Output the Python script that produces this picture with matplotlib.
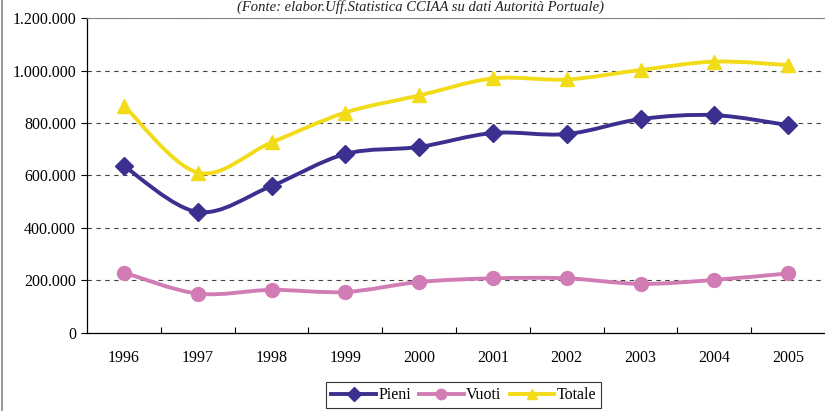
import matplotlib
matplotlib.use("Agg")
import matplotlib.pyplot as plt
from matplotlib.path import Path
from matplotlib.patches import PathPatch
from matplotlib.lines import Line2D
from matplotlib.ticker import FuncFormatter, FixedLocator
import numpy as np

plt.rcParams['font.family'] = ['Liberation Serif', 'DejaVu Serif']

anni = ['1996', '1997', '1998', '1999', '2000', '2001', '2002', '2003', '2004', '2005']
pieni = [636000, 461000, 560000, 682000, 709000, 762000, 758000, 815000, 830000, 792000]
vuoti = [230000, 150000, 164000, 156000, 194000, 208000, 208000, 187000, 202000, 227000]
totale = [866000, 611000, 726000, 840000, 905000, 970000, 966000, 1002000, 1034000, 1021000]

titolo = "(Fonte: elabor.Uff.Statistica CCIAA su dati Autorità Portuale)"


def smooth_path(x, y):
    # bezier smoothing like excel "smoothed line"
    pts = np.column_stack([x, y]).astype(float)
    n = len(pts)
    verts = [pts[0]]
    codes = [Path.MOVETO]
    for i in range(n - 1):
        p0 = pts[i - 1] if i > 0 else pts[i]
        p1 = pts[i]
        p2 = pts[i + 1]
        p3 = pts[i + 2] if i + 2 < n else pts[i + 1]
        c1 = p1 + (p2 - p0) / 6
        c2 = p2 - (p3 - p1) / 6
        verts += [c1, c2, p2]
        codes += [Path.CURVE4] * 3
    return Path(verts, codes)


fig = plt.figure(figsize=(8.25, 4.11), dpi=100)
ax = fig.add_axes([0.1055, 0.19, 0.8945, 0.766])

x = np.arange(len(anni))
serie = [
    ("Pieni", pieni, "#3b2f8f", "D", 9.5),
    ("Vuoti", vuoti, "#d27cb6", "o", 10),
    ("Totale", totale, "#f2dc1a", "^", 10),
]
handles = []
for nome, vals, col, mk, ms in serie:
    ax.add_patch(PathPatch(smooth_path(x, vals), fill=False, edgecolor=col, lw=2.8,
                           capstyle='round', joinstyle='round', zorder=3))
    ax.plot(x, vals, linestyle='none', marker=mk, markersize=ms, color=col, zorder=4)
    handles.append(Line2D([], [], color=col, lw=2.8, marker=mk, markersize=ms * 0.75, label=nome))

ax.set_xlim(-0.5, len(anni) - 0.5)
ax.set_ylim(0, 1200000)
ax.set_xticks(x)
ax.set_xticklabels(anni, fontsize=11.5)
ax.xaxis.set_minor_locator(FixedLocator(np.arange(0.5, len(anni) - 0.5, 1)))
ax.tick_params(axis='x', which='major', length=0, pad=12)
ax.tick_params(axis='x', which='minor', length=4, direction='in', width=0.8)
ax.set_yticks(np.arange(0, 1200001, 200000))
ax.yaxis.set_major_formatter(FuncFormatter(lambda v, p: f"{int(v):,}".replace(",", ".")))
ax.tick_params(axis='y', length=4, direction='out', width=0.8, labelsize=11.5, pad=4)
ax.grid(axis='y', linestyle=(0, (4, 4)), color='#444444', lw=0.8)
ax.set_axisbelow(True)

ax.spines['right'].set_visible(False)
ax.spines['top'].set_color('#888888')
ax.spines['left'].set_linewidth(0.9)
ax.spines['bottom'].set_linewidth(0.9)

fig.text(0.51, 1.0, titolo, ha='center', va='top', style='italic', fontsize=10.5, color='#222222')
fig.add_artist(Line2D([0.003, 0.003], [0, 1], transform=fig.transFigure, color='#888888', lw=1.2))

leg = fig.legend(handles=handles, loc='lower center', bbox_to_anchor=(0.562, -0.008), ncol=3,
                 frameon=True, fancybox=False, edgecolor='black', fontsize=11.5,
                 handlelength=2.8, handletextpad=0.15, columnspacing=0.5, borderpad=0.3,
                 borderaxespad=0.4)
leg.get_frame().set_linewidth(0.8)

fig.savefig("out.png", dpi=100)
